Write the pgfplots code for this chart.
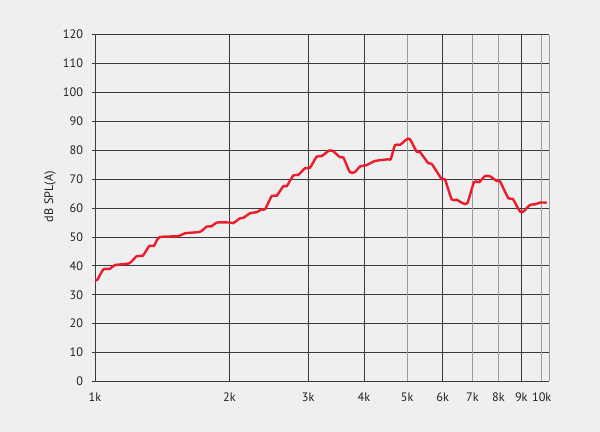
\documentclass[border=0pt]{standalone}
\usepackage{fontspec}
\setmainfont{PT Sans}
\usepackage{pgfplots}
\pgfplotsset{compat=1.18}
\definecolor{bg}{HTML}{EFEFEF}
\definecolor{gridd}{HTML}{3A3A3A}
\definecolor{gridl}{HTML}{9C9C9C}
\definecolor{curve}{HTML}{EC1C2C}
\definecolor{txt}{HTML}{222222}

\pgfplotstableread{
f      db
1000   35.0
1012   35.2
1044   38.8
1080   39.0
1109   40.3
1193   40.9
1240   43.4
1279   43.5
1323   46.9
1355   46.9
1393   49.9
1537   50.3
1590   51.3
1718   51.8
1779   53.6
1825   53.7
1873   55.0
2005   55.0
2040   54.8
2112   56.5
2147   56.6
2223   58.2
2302   58.6
2362   59.6
2403   59.6
2487   64.2
2552   64.3
2640   67.6
2687   67.6
2779   71.3
2852   71.5
2952   73.8
3029   74.0
3135   77.8
3217   78.0
3341   79.9
3399   79.9
3535   77.6
3596   77.5
3723   72.4
3820   72.5
3920   74.4
4058   74.9
4235   76.3
4534   76.9
4591   76.9
4695   81.8
4818   81.9
4987   83.8
5072   83.8
5251   79.5
5340   79.4
5573   75.5
5672   75.3
5972   70.0
6074   69.9
6288   63.0
6447   62.9
6656   61.7
6816   61.7
7053   68.9
7249   69.0
7465   71.1
7660   71.0
7930   69.4
8066   69.2
8419   63.4
8612   63.2
8942   58.8
9096   58.8
9415   61.1
9660   61.3
9913   61.9
10261  61.9
}\spl

\begin{document}
\begin{tikzpicture}[x=1bp,y=1bp]
\fill[bg] (-95,-50.5) rectangle (505,381.5);
\useasboundingbox (-95,-50.5) rectangle (505,381.5);
\begin{axis}[
    at={(0,0)}, anchor=south west,
    scale only axis,
    width=454bp, height=346.8bp,
    xmode=log, log basis x=10,
    xmin=1000, xmax=10383,
    ymin=0, ymax=120,
    ytick={0,10,...,120},
    xtick={1000,2000,3000,4000,6000,9000},
    xticklabels={1k,2k,3k,4k,6k,9k},
    extra x ticks={5000,7000,8000,10000},
    extra x tick labels={5k,7k,8k,10k},
    extra x tick style={grid style={gridl, line width=1bp}},
    grid=major,
    grid style={gridd, line width=0.8bp},
    axis line style={gridd, line width=0.9bp},
    axis y line*=left, axis x line*=bottom,
    tick align=outside,
    ytick style={gridd, line width=0.8bp},
    xtick style={draw=none},
    major tick length=3.5bp,
    /pgf/number format/assume math mode=true,
    tick label style={font=\fontsize{12.3}{14}\selectfont, text=txt},
    xticklabel style={yshift=-4.5bp},
    yticklabel style={xshift=-5bp},
    ylabel={dB SPL(A)},
    ylabel style={at={(axis description cs:-0.0991,0.533)}, anchor=center,
        font=\fontsize{12.3}{14}\selectfont, text=txt},
    clip=false,
]
\addplot[curve, line width=2.4bp, smooth, tension=0.35] table[x=f, y=db] {\spl};
\draw[gridl, line width=1bp] (rel axis cs:1,0) -- (rel axis cs:1,1);
\end{axis}
\end{tikzpicture}
\end{document}
